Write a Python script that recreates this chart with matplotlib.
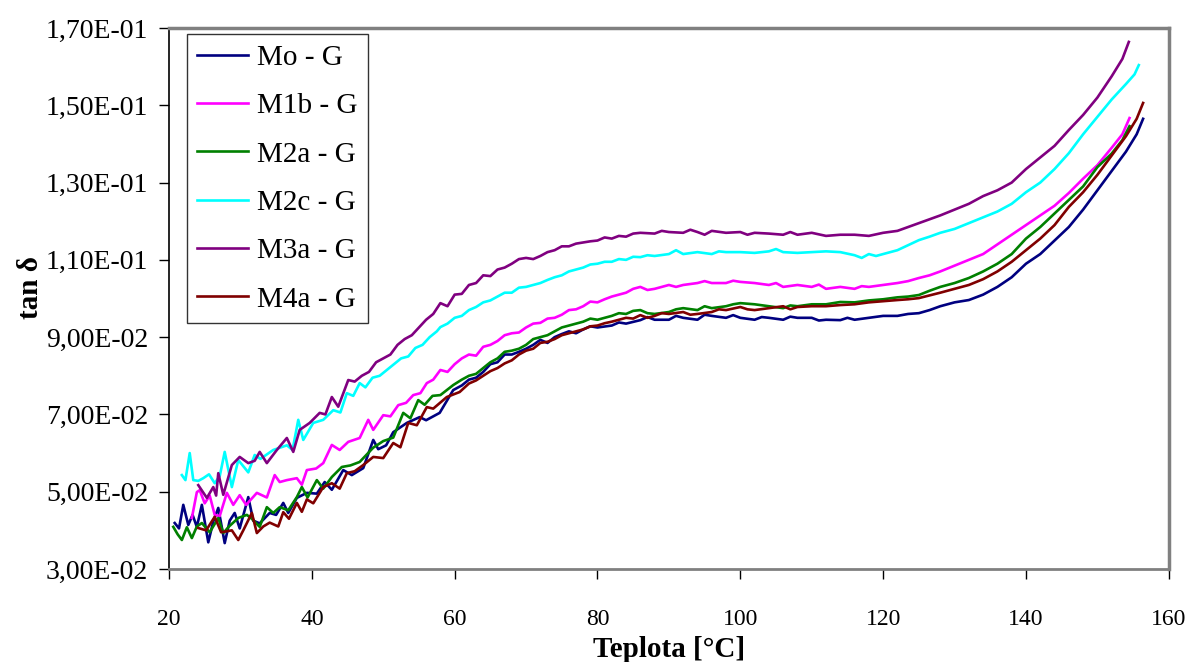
import matplotlib.pyplot as plt
from matplotlib.ticker import FuncFormatter

plt.rcParams['font.family'] = ['Liberation Serif', 'DejaVu Serif']

# Mo - G
t_mo = [20.8, 21.4, 22.0, 22.7, 23.3, 23.9, 24.6, 25.5, 26.2, 26.9, 27.8, 28.5, 29.2, 29.9, 31.1, 31.8,
        32.7, 34.1, 35.0, 36.0, 36.7, 37.9, 39.3, 40.7, 41.8, 42.8, 44.4, 45.6, 47.2, 48.6, 49.3, 50.4,
        51.4, 53.3, 55.1, 56.0, 57.9, 59.8, 61, 62, 63, 64, 65, 66, 67, 68, 69, 70, 71, 72, 73, 74, 75,
        76, 77, 78, 79, 80, 82, 83, 84, 86, 87, 88, 90, 91, 92, 94, 95, 96, 98, 99, 100, 102, 103, 104,
        106, 107, 108, 110, 111, 112, 114, 115, 116, 118, 120, 122, 123.5, 125, 126.5, 128, 130, 132,
        134, 136, 138, 140, 142, 144, 146, 148, 150, 152, 154, 155.5, 156.4]
v_mo = [0.0419, 0.0405, 0.0466, 0.0414, 0.0440, 0.0409, 0.0466, 0.0369, 0.0423, 0.0458, 0.0367, 0.0425,
        0.0445, 0.0405, 0.0486, 0.0425, 0.0418, 0.0445, 0.0440, 0.0471, 0.0445, 0.0484, 0.0497, 0.0495,
        0.0525, 0.0505, 0.0556, 0.0543, 0.0561, 0.0634, 0.0610, 0.0620, 0.0654, 0.0678, 0.0693, 0.0685,
        0.0704, 0.0763, 0.0775, 0.0790, 0.0795, 0.0810, 0.0830, 0.0835, 0.0855, 0.0855, 0.0862, 0.0870,
        0.0880, 0.0893, 0.0885, 0.0900, 0.0908, 0.0915, 0.0910, 0.0920, 0.0928, 0.0925, 0.0930, 0.0938,
        0.0935, 0.0944, 0.0952, 0.0945, 0.0945, 0.0955, 0.0950, 0.0945, 0.0958, 0.0955, 0.0950, 0.0957,
        0.0950, 0.0945, 0.0952, 0.0950, 0.0945, 0.0953, 0.0950, 0.0950, 0.0943, 0.0945, 0.0944, 0.0950,
        0.0945, 0.0950, 0.0955, 0.0955, 0.0960, 0.0962, 0.0970, 0.0980, 0.0990, 0.0996, 0.1010, 0.1030,
        0.1055, 0.1090, 0.1115, 0.1150, 0.1185, 0.1230, 0.1280, 0.1330, 0.1380, 0.1425, 0.1465]

# M1b - G
t_m1b = [23.2, 23.9, 24.3, 25.0, 25.7, 26.4, 27.1, 28.1, 29.0, 29.9, 30.8, 32.3, 33.7, 34.8, 35.5, 36.5,
         37.9, 38.6, 39.3, 40.6, 41.6, 42.8, 43.9, 45.1, 46.7, 47.9, 48.6, 50.0, 51.0, 52.1, 53.2, 54.2,
         55.2, 56.1, 57.0, 58, 59, 60, 61, 62, 63, 64, 65, 66, 67, 68, 69, 70, 71, 72, 73, 74, 75, 76, 77,
         78, 79, 80, 81, 82, 83, 84, 85, 86, 87, 88, 90, 91, 92, 94, 95, 96, 98, 99, 100, 102, 104, 105,
         106, 108, 110, 111, 112, 114, 116, 117, 118, 120, 122, 123.5, 125, 126.5, 128, 130, 132, 134,
         136, 138, 140, 142, 144, 146, 148, 150, 152, 153.5, 154.5]
v_m1b = [0.0432, 0.0499, 0.0504, 0.0470, 0.0490, 0.0440, 0.0437, 0.0497, 0.0466, 0.0491, 0.0466, 0.0497,
         0.0485, 0.0543, 0.0525, 0.0530, 0.0535, 0.0518, 0.0556, 0.0560, 0.0574, 0.0621, 0.0608, 0.0629,
         0.0639, 0.0686, 0.0660, 0.0698, 0.0695, 0.0724, 0.0730, 0.0750, 0.0755, 0.0781, 0.0790, 0.0815,
         0.0810, 0.0830, 0.0845, 0.0855, 0.0852, 0.0875, 0.0880, 0.0890, 0.0905, 0.0910, 0.0912, 0.0925,
         0.0935, 0.0937, 0.0948, 0.0950, 0.0958, 0.0970, 0.0972, 0.0980, 0.0992, 0.0990, 0.0998, 0.1005,
         0.1010, 0.1015, 0.1025, 0.1030, 0.1022, 0.1025, 0.1035, 0.1030, 0.1035, 0.1040, 0.1045, 0.1040,
         0.1040, 0.1046, 0.1043, 0.1040, 0.1035, 0.1040, 0.1030, 0.1035, 0.1030, 0.1036, 0.1025, 0.1030,
         0.1025, 0.1032, 0.1030, 0.1035, 0.1040, 0.1045, 0.1053, 0.1060, 0.1070, 0.1085, 0.1100, 0.1115,
         0.1140, 0.1165, 0.1190, 0.1215, 0.1240, 0.1273, 0.1310, 0.1345, 0.1390, 0.1425, 0.1467]

# M2a - G
t_m2a = [20.6, 21.2, 21.8, 22.5, 23.2, 23.9, 24.6, 25.7, 26.9, 27.6, 28.4, 29.7, 30.9, 31.6, 32.7, 33.7,
         34.6, 35.5, 36.7, 37.9, 38.6, 39.4, 40.7, 41.6, 42.8, 44.2, 45.4, 46.7, 48.6, 50.0, 51.4, 52.8,
         53.8, 54.9, 55.8, 56.9, 58.0, 59.8, 61, 62, 63, 64, 65, 66, 67, 68, 69, 70, 71, 72, 73, 74, 75,
         76, 77, 78, 79, 80, 81, 82, 83, 84, 85, 86, 87, 88, 90, 91, 92, 94, 95, 96, 98, 99, 100, 102,
         104, 106, 107, 108, 110, 112, 114, 116, 118, 120, 122, 123.5, 125, 126.5, 128, 130, 132, 134,
         136, 138, 140, 142, 144, 146, 148, 150, 152, 153.5, 154.5]
v_m2a = [0.0409, 0.0390, 0.0375, 0.0408, 0.0380, 0.0410, 0.0419, 0.0395, 0.0432, 0.0393, 0.0410, 0.0432,
         0.0440, 0.0430, 0.0409, 0.0460, 0.0445, 0.0460, 0.0452, 0.0486, 0.0512, 0.0485, 0.0530, 0.0508,
         0.0538, 0.0564, 0.0568, 0.0577, 0.0614, 0.0631, 0.0640, 0.0704, 0.0690, 0.0737, 0.0725, 0.0748,
         0.0750, 0.0776, 0.0790, 0.0800, 0.0805, 0.0820, 0.0835, 0.0845, 0.0862, 0.0865, 0.0870, 0.0880,
         0.0895, 0.0900, 0.0905, 0.0915, 0.0925, 0.0930, 0.0935, 0.0940, 0.0948, 0.0945, 0.0950, 0.0955,
         0.0962, 0.0960, 0.0968, 0.0970, 0.0962, 0.0960, 0.0965, 0.0972, 0.0975, 0.0970, 0.0980, 0.0975,
         0.0980, 0.0985, 0.0988, 0.0985, 0.0980, 0.0975, 0.0982, 0.0980, 0.0985, 0.0985, 0.0991, 0.0990,
         0.0995, 0.0998, 0.1003, 0.1005, 0.1009, 0.1020, 0.1030, 0.1040, 0.1053, 0.1070, 0.1090, 0.1115,
         0.1155, 0.1185, 0.1220, 0.1255, 0.1290, 0.1340, 0.1375, 0.1410, 0.1446]

# M2c - G
t_m2c = [21.8, 22.3, 22.9, 23.4, 24.1, 24.8, 25.6, 26.4, 27.1, 27.8, 28.8, 29.7, 31.1, 32.0, 32.8, 34.6,
         36.5, 37.3, 38.1, 38.8, 40.2, 41.6, 43.0, 44.0, 44.9, 45.8, 46.7, 47.5, 48.5, 49.5, 50.5, 51.5,
         52.5, 53.5, 54.5, 55.5, 56.5, 57.5, 58, 59, 60, 61, 62, 63, 64, 65, 66, 67, 68, 69, 70, 71, 72,
         73, 74, 75, 76, 77, 78, 79, 80, 81, 82, 83, 84, 85, 86, 87, 88, 90, 91, 92, 94, 96, 97, 98, 100,
         102, 104, 105, 106, 108, 110, 112, 114, 116, 117, 118, 119, 120, 122, 123.5, 125, 126.5, 128,
         130, 132, 134, 136, 138, 140, 142, 144, 146, 148, 150, 152, 154, 155.2, 155.8]
v_m2c = [0.0543, 0.0530, 0.0600, 0.0530, 0.0528, 0.0535, 0.0545, 0.0522, 0.0540, 0.0603, 0.0512, 0.0582,
         0.0550, 0.0595, 0.0585, 0.0608, 0.0620, 0.0608, 0.0686, 0.0634, 0.0678, 0.0686, 0.0711, 0.0705,
         0.0755, 0.0748, 0.0781, 0.0770, 0.0795, 0.0800, 0.0815, 0.0830, 0.0845, 0.0850, 0.0872, 0.0880,
         0.0900, 0.0915, 0.0926, 0.0935, 0.0950, 0.0955, 0.0970, 0.0978, 0.0990, 0.0995, 0.1005, 0.1015,
         0.1015, 0.1028, 0.1030, 0.1035, 0.1040, 0.1048, 0.1055, 0.1060, 0.1070, 0.1075, 0.1080, 0.1088,
         0.1090, 0.1095, 0.1095, 0.1102, 0.1100, 0.1108, 0.1107, 0.1112, 0.1110, 0.1115, 0.1125, 0.1115,
         0.1120, 0.1115, 0.1122, 0.1120, 0.1120, 0.1118, 0.1122, 0.1128, 0.1120, 0.1118, 0.1120, 0.1122,
         0.1120, 0.1112, 0.1105, 0.1115, 0.1110, 0.1115, 0.1125, 0.1138, 0.1151, 0.1160, 0.1170, 0.1180,
         0.1195, 0.1210, 0.1225, 0.1245, 0.1275, 0.1300, 0.1335, 0.1376, 0.1425, 0.1470, 0.1515, 0.1555,
         0.1580, 0.1604]

# M3a - G
t_m3a = [24.1, 25.3, 26.2, 26.6, 26.9, 27.6, 28.8, 29.9, 31.1, 32.0, 32.7, 33.7, 35.1, 36.5, 37.4, 38.3,
         39.7, 41.1, 41.9, 42.8, 43.7, 45.1, 46.0, 47.0, 48.0, 49.0, 50.0, 51.0, 52.0, 53.0, 54.0, 55.0,
         56.0, 57.0, 58, 59, 60, 61, 62, 63, 64, 65, 66, 67, 68, 69, 70, 71, 72, 73, 74, 75, 76, 77, 78,
         79, 80, 81, 82, 83, 84, 85, 86, 88, 89, 90, 92, 93, 94, 95, 96, 98, 100, 101, 102, 104, 106, 107,
         108, 110, 112, 114, 116, 118, 120, 122, 123.5, 125, 126.5, 128, 130, 132, 134, 136, 138, 140,
         142, 144, 146, 148, 150, 152, 153.5, 154.4]
v_m3a = [0.0517, 0.0484, 0.0512, 0.0490, 0.0548, 0.0492, 0.0569, 0.0590, 0.0574, 0.0580, 0.0603, 0.0574,
         0.0608, 0.0639, 0.0603, 0.0660, 0.0678, 0.0704, 0.0700, 0.0745, 0.0720, 0.0789, 0.0785, 0.0800,
         0.0810, 0.0835, 0.0845, 0.0855, 0.0880, 0.0895, 0.0905, 0.0925, 0.0945, 0.0960, 0.0988, 0.0980,
         0.1010, 0.1012, 0.1035, 0.1040, 0.1060, 0.1058, 0.1075, 0.1080, 0.1090, 0.1102, 0.1105, 0.1102,
         0.1110, 0.1120, 0.1125, 0.1135, 0.1135, 0.1142, 0.1145, 0.1148, 0.1150, 0.1158, 0.1155, 0.1162,
         0.1160, 0.1168, 0.1170, 0.1168, 0.1175, 0.1172, 0.1170, 0.1178, 0.1172, 0.1165, 0.1175, 0.1170,
         0.1172, 0.1165, 0.1170, 0.1168, 0.1165, 0.1172, 0.1165, 0.1170, 0.1162, 0.1165, 0.1165, 0.1162,
         0.1170, 0.1175, 0.1185, 0.1195, 0.1205, 0.1215, 0.1230, 0.1245, 0.1265, 0.1280, 0.1300, 0.1335,
         0.1365, 0.1395, 0.1436, 0.1475, 0.1520, 0.1575, 0.1620, 0.1664]

# M4a - G
t_m4a = [24.1, 25.2, 26.4, 27.3, 28.8, 29.7, 30.4, 31.6, 32.3, 33.2, 34.1, 35.3, 36.0, 36.8, 37.9, 38.6,
         39.3, 40.2, 41.6, 42.8, 43.9, 44.9, 46.0, 47.2, 48.6, 50.0, 51.4, 52.4, 53.5, 54.7, 56.1, 57.0,
         58.9, 60.7, 62, 63, 64, 65, 66, 67, 68, 69, 70, 71, 72, 73, 74, 75, 76, 77, 78, 79, 80, 81, 82,
         83, 84, 85, 86, 87, 88, 89, 90, 92, 93, 94, 96, 97, 98, 100, 101, 102, 104, 106, 107, 108, 110,
         112, 114, 116, 118, 120, 122, 123.5, 125, 126.5, 128, 130, 132, 134, 136, 138, 140, 142, 144,
         146, 148, 150, 152, 154, 155.5, 156.4]
v_m4a = [0.0406, 0.0400, 0.0435, 0.0395, 0.0400, 0.0375, 0.0400, 0.0445, 0.0393, 0.0410, 0.0420, 0.0410,
         0.0447, 0.0430, 0.0471, 0.0448, 0.0480, 0.0470, 0.0512, 0.0522, 0.0508, 0.0548, 0.0553, 0.0569,
         0.0590, 0.0587, 0.0626, 0.0615, 0.0678, 0.0672, 0.0719, 0.0715, 0.0745, 0.0758, 0.0780, 0.0788,
         0.0800, 0.0812, 0.0820, 0.0832, 0.0840, 0.0855, 0.0865, 0.0870, 0.0885, 0.0888, 0.0895, 0.0905,
         0.0910, 0.0915, 0.0920, 0.0928, 0.0930, 0.0936, 0.0940, 0.0945, 0.0950, 0.0948, 0.0957, 0.0950,
         0.0955, 0.0962, 0.0960, 0.0965, 0.0958, 0.0960, 0.0965, 0.0972, 0.0970, 0.0978, 0.0972, 0.0970,
         0.0975, 0.0980, 0.0972, 0.0978, 0.0980, 0.0980, 0.0983, 0.0985, 0.0990, 0.0993, 0.0996, 0.0998,
         0.1001, 0.1008, 0.1015, 0.1025, 0.1035, 0.1050, 0.1070, 0.1095, 0.1125, 0.1155, 0.1190, 0.1237,
         0.1275, 0.1320, 0.1370, 0.1420, 0.1465, 0.1506]

x_ticks = [20, 40, 60, 80, 100, 120, 140, 160]
y_ticks = [0.03, 0.05, 0.07, 0.09, 0.11, 0.13, 0.15, 0.17]

series = [
    ('Mo - G', t_mo, v_mo, '#000080'),
    ('M1b - G', t_m1b, v_m1b, '#FF00FF'),
    ('M2a - G', t_m2a, v_m2a, '#008000'),
    ('M2c - G', t_m2c, v_m2c, '#00FFFF'),
    ('M3a - G', t_m3a, v_m3a, '#800080'),
    ('M4a - G', t_m4a, v_m4a, '#800000'),
]

fig = plt.figure(figsize=(11.86, 6.62), dpi=100)
ax = fig.add_axes([0.1425, 0.1405, 0.843, 0.8172])

for name, t, v, c in series:
    ax.plot(t, v, color=c, lw=1.9, label=name)

ax.set_xlim(20, 160)
ax.set_ylim(0.03, 0.17)
ax.set_xticks(x_ticks)
ax.set_yticks(y_ticks)
ax.yaxis.set_major_formatter(FuncFormatter(lambda v, p: f'{v:.2E}'.replace('.', ',')))
ax.tick_params(direction='out', length=7, width=1, labelsize=20, colors='black')
ax.tick_params(axis='y', pad=8)
ax.tick_params(axis='x', pad=22, labelsize=17)

for side in ['top', 'right']:
    ax.spines[side].set_color('#808080')
    ax.spines[side].set_linewidth(2.5)
ax.spines['bottom'].set_color('#808080')
ax.spines['bottom'].set_linewidth(2)
ax.spines['left'].set_color('black')
ax.spines['left'].set_linewidth(1.2)

ax.set_xlabel('Teplota [°C]', fontsize=21, fontweight='bold', labelpad=4)
ax.set_ylabel('tan δ', fontsize=21, fontweight='bold', labelpad=6)
ax.yaxis.set_label_coords(-0.125, 0.52)

leg = ax.legend(loc='upper left', bbox_to_anchor=(0.018, 0.988), fontsize=21,
                frameon=True, fancybox=False, edgecolor='black', handlelength=1.75,
                labelspacing=0.75, borderpad=0.35, handletextpad=0.3, borderaxespad=0)
leg.get_frame().set_linewidth(1)

fig.savefig('out.png', dpi=100)
